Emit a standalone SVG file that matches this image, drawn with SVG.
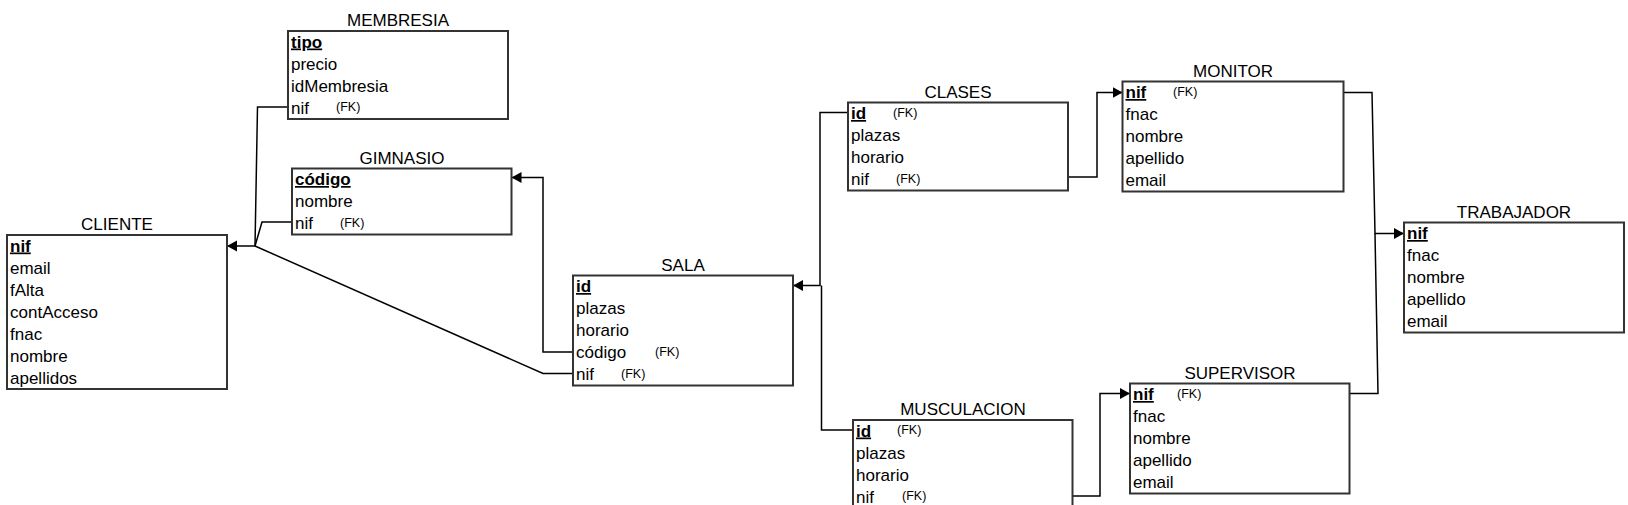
<svg xmlns="http://www.w3.org/2000/svg" width="1628" height="505" viewBox="0 0 1628 505">
<defs>
<style>
.box{fill:#fff;stroke:#333;stroke-width:2}
.t{font-family:"Liberation Sans",Arial,sans-serif;font-size:17px;fill:#000}
.title{text-anchor:middle}
.pk{font-weight:bold;text-decoration:underline}
.fk{font-family:"Liberation Sans",Arial,sans-serif;font-size:12.5px;fill:#000}
.c{fill:none;stroke:#000;stroke-width:1.5}
</style>
<marker id="arr" markerWidth="12" markerHeight="12" refX="10" refY="6" orient="auto" markerUnits="userSpaceOnUse">
<path d="M0,0.5 L10,6 L0,11.5 Z" fill="#000"/>
</marker>
</defs>
<rect width="1628" height="505" fill="#fff"/>

<g id="connectors">
<path class="c" d="M288,107 H257.5 L255,246 H227" marker-end="url(#arr)"/>
<path class="c" d="M292,222 H262 L255,246"/>
<path class="c" d="M573,373.5 H543 L255,246"/>
<path class="c" d="M573,352 H543 V177.5 H511.5" marker-end="url(#arr)"/>
<path class="c" d="M848,112.5 H820 V285.5 H793" marker-end="url(#arr)"/>
<path class="c" d="M853,430 H821.5 V285.5"/>
<path class="c" d="M1068,177 H1097 V92.5 H1122.5" marker-end="url(#arr)"/>
<path class="c" d="M1072.5,496 H1100 V393.5 H1130" marker-end="url(#arr)"/>
<path class="c" d="M1343.5,92.5 H1372 L1375,233.5 H1404" marker-end="url(#arr)"/>
<path class="c" d="M1349.5,393.5 H1378 L1375,233.5"/>
</g>

<g id="membresia">
<text class="t title" x="398" y="26">MEMBRESIA</text>
<rect class="box" x="288" y="31" width="220" height="88"/>
<text class="t pk" x="291" y="47.5">tipo</text>
<text class="t" x="291" y="69.5">precio</text>
<text class="t" x="291" y="91.5">idMembresia</text>
<text class="t" x="291" y="113.5">nif</text>
<text class="fk" x="336" y="111">(FK)</text>
</g>

<g id="gimnasio">
<text class="t title" x="402" y="164">GIMNASIO</text>
<rect class="box" x="292" y="168.5" width="219.5" height="66"/>
<text class="t pk" x="295" y="185">código</text>
<text class="t" x="295" y="207">nombre</text>
<text class="t" x="295" y="229">nif</text>
<text class="fk" x="340" y="226.5">(FK)</text>
</g>

<g id="cliente">
<text class="t title" x="117" y="230">CLIENTE</text>
<rect class="box" x="7" y="235" width="220" height="154"/>
<text class="t pk" x="10" y="251.5">nif</text>
<text class="t" x="10" y="273.5">email</text>
<text class="t" x="10" y="295.5">fAlta</text>
<text class="t" x="10" y="317.5">contAcceso</text>
<text class="t" x="10" y="339.5">fnac</text>
<text class="t" x="10" y="361.5">nombre</text>
<text class="t" x="10" y="383.5">apellidos</text>
</g>

<g id="sala">
<text class="t title" x="683" y="270.5">SALA</text>
<rect class="box" x="573" y="275.5" width="220" height="110"/>
<text class="t pk" x="576" y="292">id</text>
<text class="t" x="576" y="314">plazas</text>
<text class="t" x="576" y="336">horario</text>
<text class="t" x="576" y="358">código</text>
<text class="fk" x="655" y="355.5">(FK)</text>
<text class="t" x="576" y="380">nif</text>
<text class="fk" x="621" y="377.5">(FK)</text>
</g>

<g id="clases">
<text class="t title" x="958" y="97.5">CLASES</text>
<rect class="box" x="848" y="102.5" width="220" height="88"/>
<text class="t pk" x="851" y="119">id</text>
<text class="fk" x="893" y="116.5">(FK)</text>
<text class="t" x="851" y="141">plazas</text>
<text class="t" x="851" y="163">horario</text>
<text class="t" x="851" y="185">nif</text>
<text class="fk" x="896" y="182.5">(FK)</text>
</g>

<g id="monitor">
<text class="t title" x="1233" y="76.5">MONITOR</text>
<rect class="box" x="1122.5" y="81.5" width="221" height="110"/>
<text class="t pk" x="1125.5" y="98">nif</text>
<text class="fk" x="1173" y="95.5">(FK)</text>
<text class="t" x="1125.5" y="120">fnac</text>
<text class="t" x="1125.5" y="142">nombre</text>
<text class="t" x="1125.5" y="164">apellido</text>
<text class="t" x="1125.5" y="186">email</text>
</g>

<g id="trabajador">
<text class="t title" x="1514" y="217.5">TRABAJADOR</text>
<rect class="box" x="1404" y="222.5" width="220" height="110"/>
<text class="t pk" x="1407" y="239">nif</text>
<text class="t" x="1407" y="261">fnac</text>
<text class="t" x="1407" y="283">nombre</text>
<text class="t" x="1407" y="305">apellido</text>
<text class="t" x="1407" y="327">email</text>
</g>

<g id="supervisor">
<text class="t title" x="1240" y="378.5">SUPERVISOR</text>
<rect class="box" x="1130" y="383.5" width="219.5" height="110"/>
<text class="t pk" x="1133" y="400">nif</text>
<text class="fk" x="1177" y="397.5">(FK)</text>
<text class="t" x="1133" y="422">fnac</text>
<text class="t" x="1133" y="444">nombre</text>
<text class="t" x="1133" y="466">apellido</text>
<text class="t" x="1133" y="488">email</text>
</g>

<g id="musculacion">
<text class="t title" x="963" y="415">MUSCULACION</text>
<rect class="box" x="853" y="420" width="219.5" height="88"/>
<text class="t pk" x="856" y="436.5">id</text>
<text class="fk" x="897" y="434">(FK)</text>
<text class="t" x="856" y="458.5">plazas</text>
<text class="t" x="856" y="480.5">horario</text>
<text class="t" x="856" y="502.5">nif</text>
<text class="fk" x="902" y="500">(FK)</text>
</g>
</svg>
